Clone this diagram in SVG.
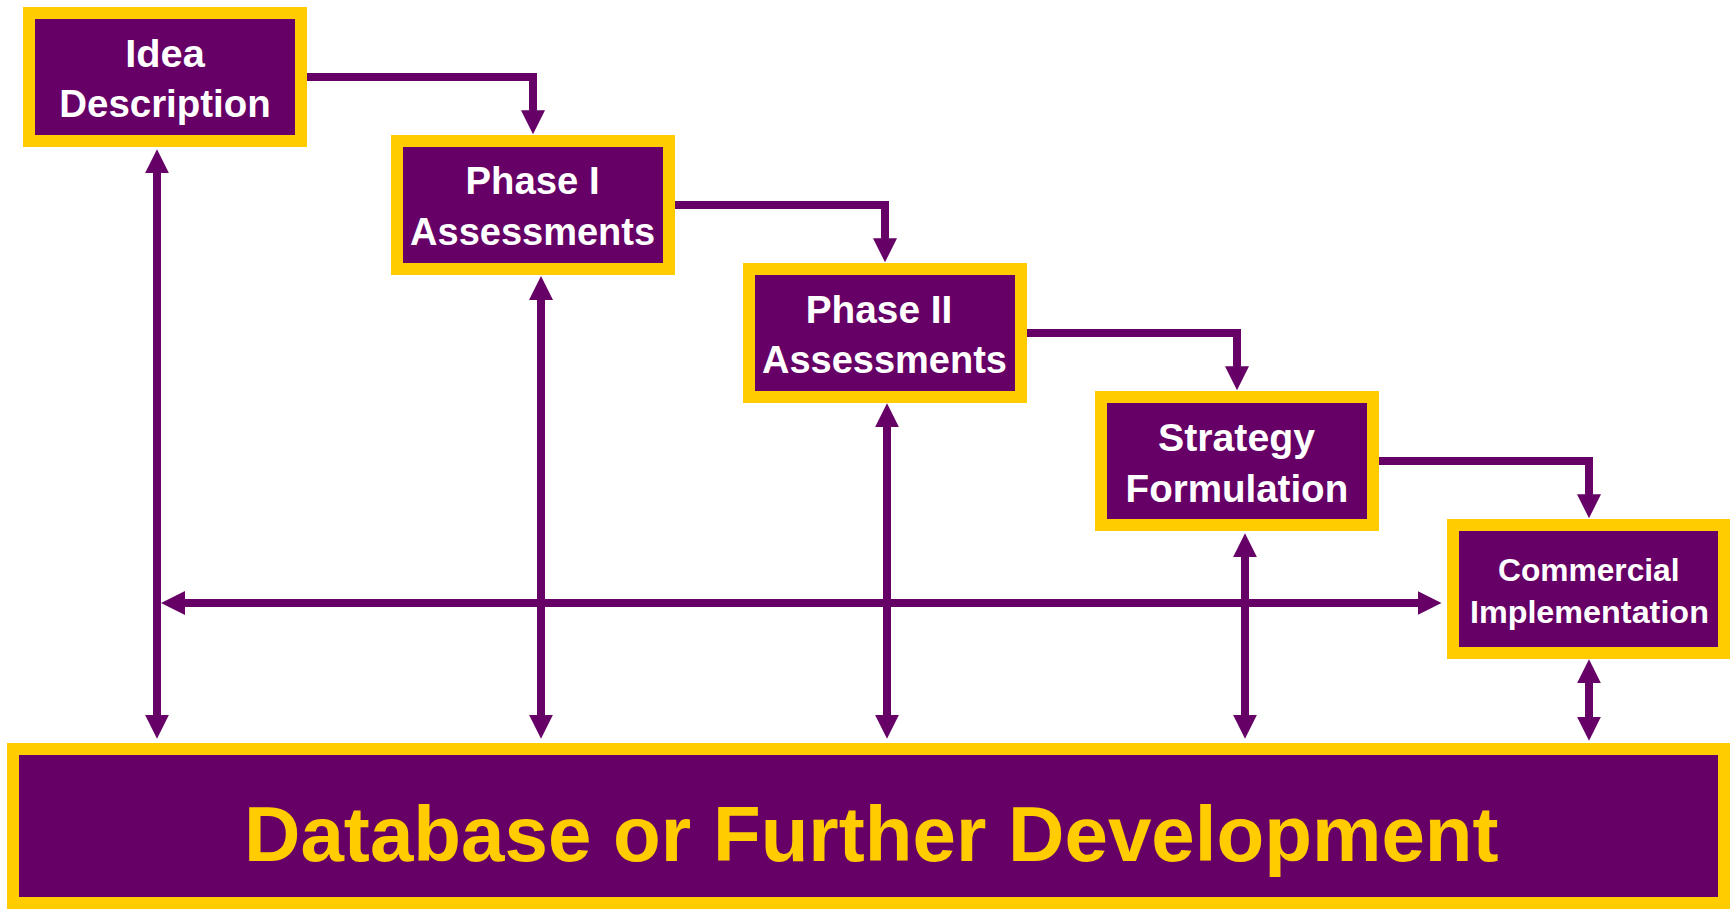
<svg xmlns="http://www.w3.org/2000/svg" width="1730" height="909" viewBox="0 0 1730 909">
  <style>
    .box { fill: #660066; stroke: #FFCC00; stroke-width: 12; }
    .lbl { font-family: "Liberation Sans", Arial, sans-serif; font-weight: bold; fill: #FFFFFF; text-anchor: middle; }
    .big { font-family: "Liberation Sans", Arial, sans-serif; font-weight: bold; fill: #FFCC00; text-anchor: middle; font-size: 78.5px; }
    .wire { fill: none; stroke: #660066; stroke-width: 8; stroke-linejoin: miter; stroke-linecap: butt; }
  </style>
  <defs>
    <marker id="head" viewBox="0 0 24 24" markerWidth="24" markerHeight="24" refX="1" refY="12" markerUnits="userSpaceOnUse" orient="auto-start-reverse">
      <path d="M0,0 L24,12 L0,24 z" fill="#660066"/>
    </marker>
  </defs>
  <rect width="1730" height="909" fill="#FFFFFF"/>

  <!-- connectors -->
  <g id="connectors">
    <!-- stage to stage elbows -->
    <path class="wire" d="M307,77 H533 V111.3" marker-end="url(#head)"/>
    <path class="wire" d="M675,205 H885 V239.3" marker-end="url(#head)"/>
    <path class="wire" d="M1027,333 H1237 V367.3" marker-end="url(#head)"/>
    <path class="wire" d="M1379,461 H1589 V495.3" marker-end="url(#head)"/>
    <!-- two-way links to the database -->
    <path class="wire" d="M157,172.3 V715.7" marker-start="url(#head)" marker-end="url(#head)"/>
    <path class="wire" d="M541,299 V715.7" marker-start="url(#head)" marker-end="url(#head)"/>
    <path class="wire" d="M887,426.3 V715.7" marker-start="url(#head)" marker-end="url(#head)"/>
    <path class="wire" d="M1245,556.3 V715.7" marker-start="url(#head)" marker-end="url(#head)"/>
    <path class="wire" d="M1589,682.3 V717.7" marker-start="url(#head)" marker-end="url(#head)"/>
    <!-- horizontal feedback bar -->
    <path class="wire" d="M184,603 H1418.5" marker-start="url(#head)" marker-end="url(#head)"/>
  </g>

  <g id="idea">
    <rect class="box" x="29" y="13" width="272" height="128"/>
    <text class="lbl" font-size="39.5" x="165" y="66.7" textLength="79.5" lengthAdjust="spacingAndGlyphs">Idea</text>
    <text class="lbl" font-size="39.5" x="165" y="117.3" textLength="211.5" lengthAdjust="spacingAndGlyphs">Description</text>
  </g>

  <g id="phase1">
    <rect class="box" x="397" y="141" width="272" height="128"/>
    <text class="lbl" font-size="39.5" x="532.6" y="194.3" textLength="134" lengthAdjust="spacingAndGlyphs">Phase I</text>
    <text class="lbl" font-size="39.5" x="532.6" y="245" textLength="245" lengthAdjust="spacingAndGlyphs">Assessments</text>
  </g>

  <g id="phase2">
    <rect class="box" x="749" y="269" width="272" height="128"/>
    <text class="lbl" font-size="39.5" x="879" y="322.7" textLength="146.5" lengthAdjust="spacingAndGlyphs">Phase II</text>
    <text class="lbl" font-size="39.5" x="884.5" y="373.3" textLength="245" lengthAdjust="spacingAndGlyphs">Assessments</text>
  </g>

  <g id="strategy">
    <rect class="box" x="1101" y="397" width="272" height="128"/>
    <text class="lbl" font-size="39.5" x="1236.5" y="450.7" textLength="157" lengthAdjust="spacingAndGlyphs">Strategy</text>
    <text class="lbl" font-size="39.5" x="1236.9" y="501.7" textLength="222.6" lengthAdjust="spacingAndGlyphs">Formulation</text>
  </g>

  <g id="commercial">
    <rect class="box" x="1453" y="525" width="271" height="128"/>
    <text class="lbl" font-size="31.5" x="1588.8" y="581" textLength="181.5" lengthAdjust="spacingAndGlyphs">Commercial</text>
    <text class="lbl" font-size="31.5" x="1589.4" y="622.7" textLength="239" lengthAdjust="spacingAndGlyphs">Implementation</text>
  </g>

  <g id="database">
    <rect class="box" x="13" y="749" width="1711" height="154"/>
    <text class="big" x="871.3" y="860.7" textLength="1254.6" lengthAdjust="spacingAndGlyphs">Database or Further Development</text>
  </g>
</svg>
